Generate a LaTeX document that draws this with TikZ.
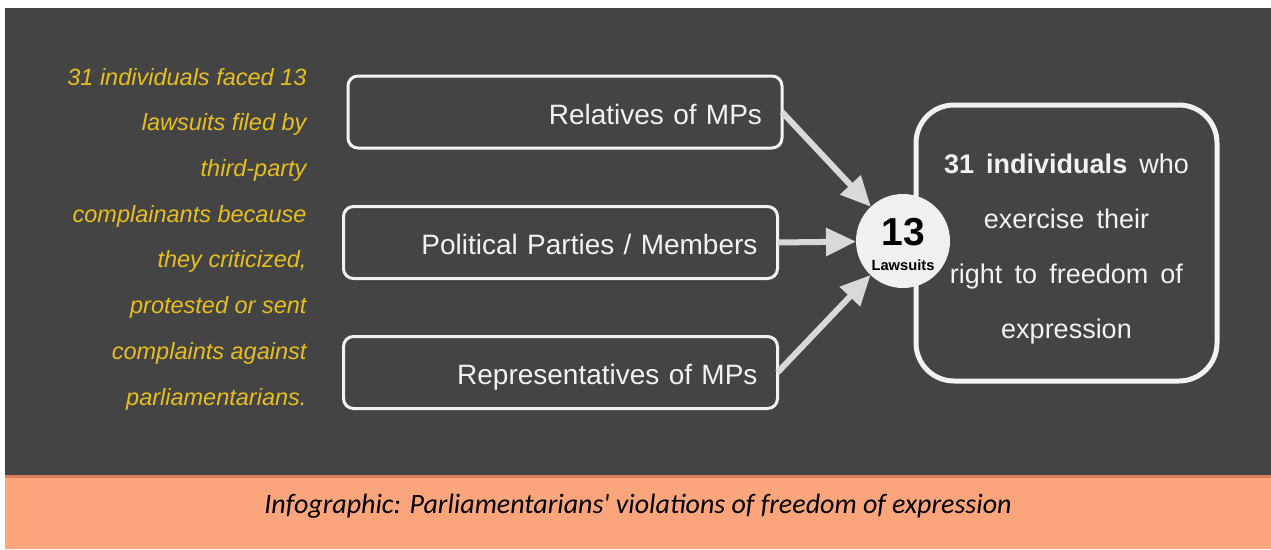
\documentclass[tikz,border=0pt]{standalone}
\usepackage{fontspec}
\setmainfont{Liberation Sans}
\newfontfamily\capfont{Carlito}
\usetikzlibrary{arrows.meta}

\definecolor{bgdark}{RGB}{68,68,68}
\definecolor{boxline}{RGB}{242,242,242}
\definecolor{arrowgray}{RGB}{217,217,217}
\definecolor{circlefill}{RGB}{240,240,240}
\definecolor{ytext}{RGB}{230,190,30}
\definecolor{capbg}{RGB}{251,165,124}
\definecolor{capline}{RGB}{219,125,88}

\begin{document}
\begin{tikzpicture}[x=1pt, y=-1pt,
    sourcebox/.style={draw=boxline, line width=3pt, rounded corners=10pt, outer sep=0pt,
        minimum width=434pt, minimum height=72pt, text width=394pt, inner xsep=20pt,
        align=right, text=boxline, font=\fontsize{28}{34}\selectfont,
        text height=24pt, text depth=0pt},
    arr/.style={draw=arrowgray, line width=6pt, -{Triangle[length=30pt, width=27pt]}}]
    \useasboundingbox (0,0) rectangle (1271,549);

    \fill[white] (0,0) rectangle (1271,549);
    \fill[bgdark] (5,8) rectangle (1271,475);
    \fill[capbg] (5,475) rectangle (1271,549);
    \fill[capline] (5,475) rectangle (1271,478);

    \node[anchor=east, align=right, text=ytext,
        font=\itshape\fontsize{23.5}{45.7}\selectfont] (intro) at (310,239)
        {31 individuals faced 13\\lawsuits filed by\\third-party\\complainants because\\they criticized,\\protested or sent\\complaints against\\parliamentarians.};

    \node[sourcebox] (rel) at (565,112) {Relatives of MPs};
    \node[sourcebox] (pol) at (560.5,242.5) {Political Parties / Members};
    \node[sourcebox] (rep) at (560.5,372.5) {Representatives of MPs};

    \node[draw=boxline, line width=5pt, rounded corners=38pt, outer sep=0pt,
        minimum width=301pt, minimum height=276pt, text width=280pt, align=center,
        text=boxline, font=\fontsize{27}{55}\selectfont,
        text height=20pt, text depth=160pt] (who) at (1066.5,243)
        {\spaceskip=.45em\relax\textbf{31 individuals} who\\exercise their\\right to freedom of\\expression};

    \node[circle, fill=circlefill, minimum size=94pt, inner sep=0pt, outer sep=0pt,
        text width=80pt, align=center, font=\bfseries,
        text height=28pt, text depth=20pt] (suits) at (903,241)
        {\fontsize{39}{39}\selectfont 13\\[13pt]\fontsize{14.7}{26}\selectfont Lawsuits};

    \draw[arr] (rel.east) -- (suits);
    \draw[arr] (pol.east) -- (suits);
    \draw[arr] (rep.east) -- (suits);

    \node[anchor=base, font=\capfont\itshape\fontsize{28}{33}\selectfont] (cap) at (638,513)
        {Infographic: Parliamentarians\textquotesingle{} violations of freedom of expression};
\end{tikzpicture}
\end{document}
